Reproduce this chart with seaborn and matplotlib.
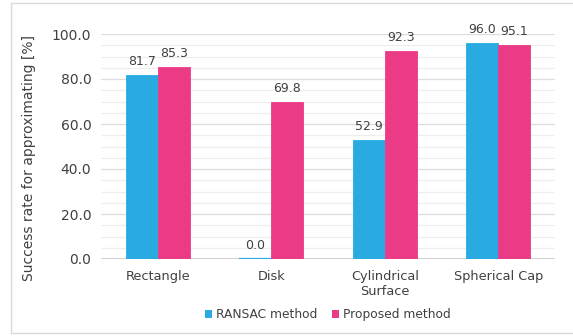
import matplotlib.pyplot as plt
import pandas as pd
import seaborn as sns
from matplotlib.patches import Rectangle

# Data:
shapes = ["Rectangle", "Disk", "Cylindrical\nSurface", "Spherical Cap"]
ransac = [81.7, 0.0, 52.9, 96.0]
proposed = [85.3, 69.8, 92.3, 95.1]
methods = ["RANSAC method", "Proposed method"]

df = pd.DataFrame({
    "shape": shapes * 2,
    "method": [methods[0]] * 4 + [methods[1]] * 4,
    "value": ransac + proposed,
})

# Colors:
blue = "#29ABE2"
pink = "#EC3B86"
txt = "#404040"

sns.set_theme(style="white")
plt.rcParams["font.family"] = ["DejaVu Sans"]

fig = plt.figure(figsize=(5.73, 3.36), dpi=100)
ax = fig.add_axes([101 / 573, 1 - 259 / 336, 454 / 573, 225 / 336])

sns.barplot(data=df, x="shape", y="value", hue="method",
            palette=[blue, pink], saturation=1, width=0.566, gap=0,
            linewidth=0, ax=ax)

# thin outline so that a 0 value still shows as a sliver
for cont in ax.containers:
    for p in cont.patches:
        p.set_edgecolor(p.get_facecolor())
        p.set_linewidth(1.6 if p.get_height() == 0 else 0.6)
        p.set_zorder(4)

ax.set_xlim(-0.5, 3.5)
ax.set_ylim(0, 100)

# gridlines
for v in range(5, 100, 5):
    ax.axhline(v, color="#eeeeee" if v % 20 else "#dddddd", lw=0.9, zorder=0)
ax.axhline(100, color="#dddddd", lw=0.9, zorder=0)
ax.axhline(0, color="#cccccc", lw=1.3, zorder=3)

# value labels
for cont in ax.containers:
    ax.bar_label(cont, fmt="%.1f", padding=5, fontsize=9, color=txt)

for s in ax.spines.values():
    s.set_visible(False)

ax.set_yticks(range(0, 101, 20))
ax.set_yticklabels([f"{v:.1f}" for v in range(0, 101, 20)])
ax.tick_params(axis="both", length=0, labelcolor=txt)
ax.tick_params(axis="y", pad=7, labelsize=10)
ax.tick_params(axis="x", pad=8, labelsize=9.3)
ax.set_xlabel("")
ax.set_ylabel("Success rate for approximating [%]", fontsize=10, color=txt)
ax.yaxis.set_label_coords(-0.143, 0.449)

leg = ax.legend(loc="upper center", bbox_to_anchor=(0.5, -0.17), ncol=2,
                frameon=False, fontsize=8.8, handlelength=0.6, handleheight=0.6,
                handletextpad=0.3, columnspacing=1.2)
for t in leg.get_texts():
    t.set_color(txt)

# outer frame
fig.patches.append(Rectangle((11 / 573, 3 / 336), 1, 330 / 336,
                             transform=fig.transFigure, fill=False,
                             edgecolor="#d9d9d9", lw=1))

plt.savefig("out.png", dpi=100)
